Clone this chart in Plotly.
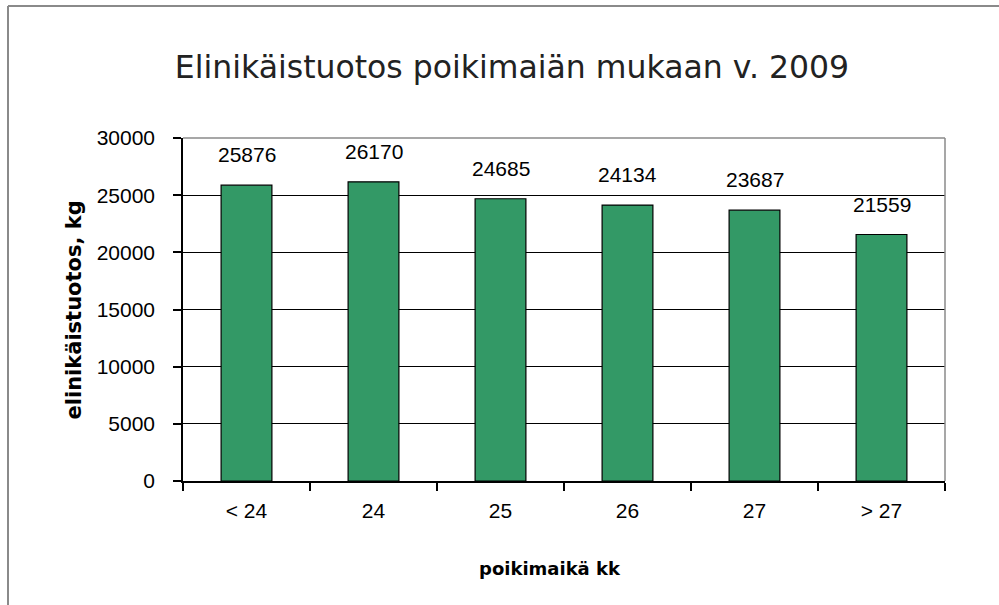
import plotly.graph_objects as go

categories = ["< 24", "24", "25", "26", "27", "> 27"]
values = [25876, 26170, 24685, 24134, 23687, 21559]
value_labels = ["25876", "26170", "24685", "24134", "23687", "21559"]
y_ticks = [0, 5000, 10000, 15000, 20000, 25000, 30000]
y_tick_labels = ["0", "5000", "10000", "15000", "20000", "25000", "30000"]

title_text = "Elinikäistuotos poikimaiän mukaan v. 2009"
x_title = "poikimaikä kk"
y_title = "elinikäistuotos, kg"

num_font = dict(family="Liberation Sans, Arial", size=21, color="#000000")

W, H = 999, 605

fig = go.Figure()
fig.add_trace(go.Bar(
    x=categories, y=values,
    marker=dict(color="#339966", line=dict(color="#000000", width=1.2)),
    width=0.4,
    hoverinfo="skip",
))

for i, (v, t) in enumerate(zip(values, value_labels)):
    fig.add_annotation(x=i, y=v, text=t, showarrow=False, xref="x", yref="y",
                       yanchor="bottom", yshift=17, font=num_font)

# axis titles
fig.add_annotation(text=x_title, xref="paper", yref="paper", x=(550 - 183) / 762, y=(481 - 568) / 343,
                   xanchor="center", yanchor="middle", showarrow=False,
                   font=dict(family="DejaVu Sans, Verdana", size=18, color="#000000", weight="bold"))
fig.add_annotation(text=y_title, xref="paper", yref="paper", x=(73 - 183) / 762, y=0.5,
                   xanchor="center", yanchor="middle", showarrow=False, textangle=-90,
                   font=dict(family="DejaVu Sans, Verdana", size=21, color="#000000", weight="bold"))

# outer frame: only left and top edges are visible in the reference
fx0 = (8 - 183) / 762
fy1 = (481 - 6) / 343
fig.add_shape(type="line", xref="paper", yref="paper", x0=fx0, x1=fx0, y0=-0.6, y1=fy1,
              line=dict(color="#8a8a8a", width=2), layer="below")
fig.add_shape(type="line", xref="paper", yref="paper", x0=fx0, x1=1.2, y0=fy1, y1=fy1,
              line=dict(color="#8a8a8a", width=2), layer="below")

fig.update_layout(
    width=W, height=H,
    margin=dict(l=183, r=54, t=138, b=124),
    paper_bgcolor="white", plot_bgcolor="white",
    showlegend=False,
    title=dict(text=title_text, x=512 / W, xanchor="center", xref="container",
               y=1 - 67 / H, yanchor="middle", yref="container",
               font=dict(family="DejaVu Sans, Verdana", size=31.5, color="#222222")),
    xaxis=dict(
        type="category", tickangle=0,
        showline=True, linecolor="#000000", linewidth=1.5,
        ticks="outside", tickson="boundaries", ticklen=8, tickcolor="#000000", tickwidth=1.5,
        tickfont=num_font, ticklabelstandoff=10,
        showgrid=False, mirror=False, fixedrange=True,
    ),
    yaxis=dict(
        range=[0, 30000], tickvals=y_ticks, ticktext=y_tick_labels,
        showline=True, linecolor="#000000", linewidth=1.5,
        ticks="outside", ticklen=8, tickcolor="#000000", tickwidth=1.5,
        tickfont=num_font, ticklabelstandoff=14,
        showgrid=True, gridcolor="#000000", gridwidth=1.2,
        zeroline=False,
        fixedrange=True,
    ),
)

# gray top and right plot-area border
fig.add_shape(type="line", xref="paper", yref="paper", x0=0, x1=1, y0=1, y1=1,
              line=dict(color="#8a8a8a", width=1.5))
fig.add_shape(type="line", xref="paper", yref="paper", x0=1, x1=1, y0=0, y1=1,
              line=dict(color="#8a8a8a", width=1.5))

fig.write_html(
    "out.html",
    config={"displayModeBar": False},
    post_script="document.body.style.margin='0';document.body.style.overflow='hidden';",
)
